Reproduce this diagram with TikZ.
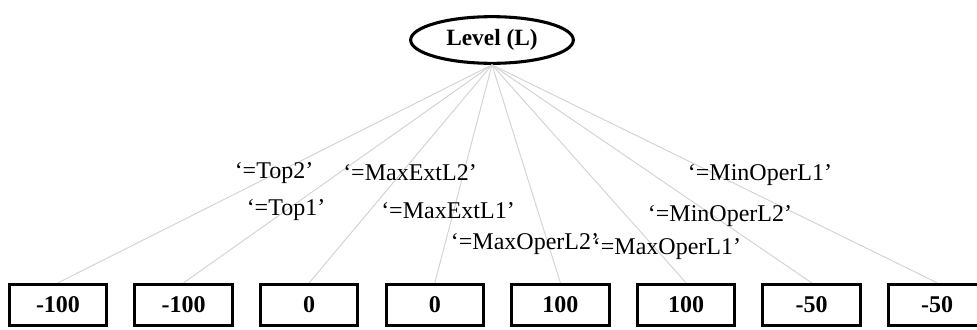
\documentclass[tikz,border=0pt]{standalone}
\usepackage{fontspec}
\setmainfont{Liberation Serif}
\usepackage{tikz}
\usetikzlibrary{shapes.geometric}

\begin{document}
\begin{tikzpicture}[x=0.75pt,y=-0.75pt,node distance=94.2pt,
                    font=\fontsize{18}{20}\selectfont]
  \tikzstyle{level}=[ellipse,draw,line width=2.3pt,minimum width=122pt,
                     minimum height=35pt,inner sep=0pt,font=\fontsize{17.5}{20}\selectfont\bfseries]
  \tikzstyle{leaf}=[rectangle,draw,line width=2.3pt,minimum width=73pt,
                    minimum height=31pt,inner sep=0pt,font=\fontsize{18}{20}\selectfont\bfseries]
  \tikzstyle{cond}=[inner sep=0pt]

  \useasboundingbox (0,0) rectangle (977,329);

  \node[level]      (L)  at (492,40)    {Level (L)};

  \node[leaf]       (b1) at (58,305)    {-100};
  \node[leaf]       (b2) [right of=b1]  {-100};
  \node[leaf]       (b3) [right of=b2]  {0};
  \node[leaf]       (b4) [right of=b3]  {0};
  \node[leaf]       (b5) [right of=b4]  {100};
  \node[leaf]       (b6) [right of=b5]  {100};
  \node[leaf]       (b7) [right of=b6]  {-50};
  \node[leaf]       (b8) [right of=b7]  {-50};

  \path[draw=gray!35,line width=0.7pt]
        (L.south) edge (b1.north)
                  edge (b2.north)
                  edge (b3.north)
                  edge (b4.north)
                  edge (b5.north)
                  edge (b6.north)
                  edge (b7.north)
                  edge (b8.north);

  % conditions
  \node[cond] (c1) at (274,173) {‘=Top2’};
  \node[cond] (c2) at (286,210) {‘=Top1’};
  \node[cond] (c3) at (410,173) {‘=MaxExtL2’};
  \node[cond] (c4) at (448,211) {‘=MaxExtL1’};
  \node[cond] (c5) at (525,244) {‘=MaxOperL2’};
  \node[cond] (c6) at (667,249) {‘=MaxOperL1’};
  \node[cond] (c7) at (760,175) {‘=MinOperL1’};
  \node[cond] (c8) at (720,216) {‘=MinOperL2’};
\end{tikzpicture}
\end{document}
